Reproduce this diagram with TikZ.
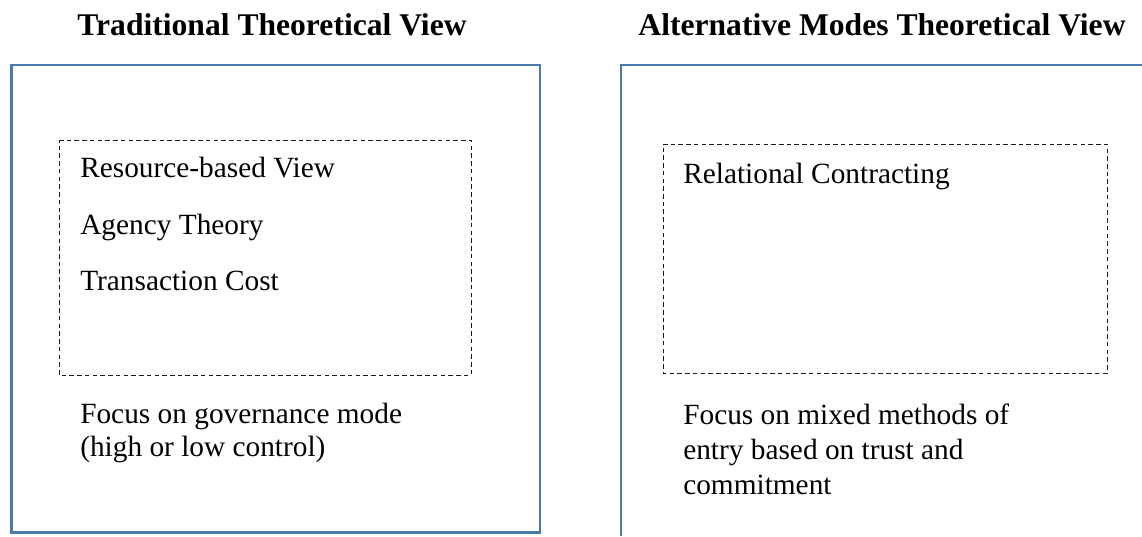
\documentclass[tikz,border=0pt]{standalone}
\usepackage{fontspec}
\setmainfont{Liberation Serif}
\usepackage{xcolor}

\tikzset{
  viewbox/.style={draw={rgb, 255:red, 74; green, 121; blue, 171}, line width=2pt},
  theorybox/.style={draw=black!90, line width=0.7pt, dash pattern=on 3.4pt off 2.4pt},
  headtext/.style={anchor=base, inner sep=0pt, font=\fontsize{23.7}{28}\selectfont\bfseries},
  itemtext/.style={anchor=base west, inner sep=0pt, font=\fontsize{22}{26}\selectfont}
}

\begin{document}
\begin{tikzpicture}[x=0.75pt,y=0.75pt,yscale=-1,xscale=1]
    \useasboundingbox (0,0) rectangle (1142,536);

    %Shape: Rectangle [left view]
    \draw [viewbox] (11.5,65) -- (540,65) -- (540,532.5) -- (11.5,532.5) -- cycle ;
    %Shape: Rectangle [right view, open at right and bottom]
    \draw [viewbox] (621,536) -- (621,65) -- (1142,65) ;

    %Shape: Rectangle [left theories]
    \draw [theorybox] (59,140) -- (471,140) -- (471,375) -- (59,375) -- cycle ;
    %Shape: Rectangle [right theories]
    \draw [theorybox] (663,144) -- (1107,144) -- (1107,373) -- (663,373) -- cycle ;

    % Text Node
    \node [headtext] (tradHead) at (272,35) {Traditional Theoretical View};
    \node [headtext] (altHead) at (882,35) {Alternative Modes Theoretical View};

    % Text Node
    \node [itemtext] (rbv) at (80,177) {Resource-based View};
    \node [itemtext] (agency) at (80,234) {Agency Theory};
    \node [itemtext] (transCost) at (80,290) {Transaction Cost};
    \node [itemtext] (relContract) at (683,183) {Relational Contracting};

    % Text Node
    \node [itemtext] (tradFocusA) at (80,423) {Focus on governance mode};
    \node [itemtext] (tradFocusB) at (80,456) {(high or low control)};
    \node [itemtext] (altFocusA) at (683,424) {Focus on mixed methods of};
    \node [itemtext] (altFocusB) at (683,459) {entry based on trust and};
    \node [itemtext] (altFocusC) at (683,494) {commitment};

\end{tikzpicture}
\end{document}
